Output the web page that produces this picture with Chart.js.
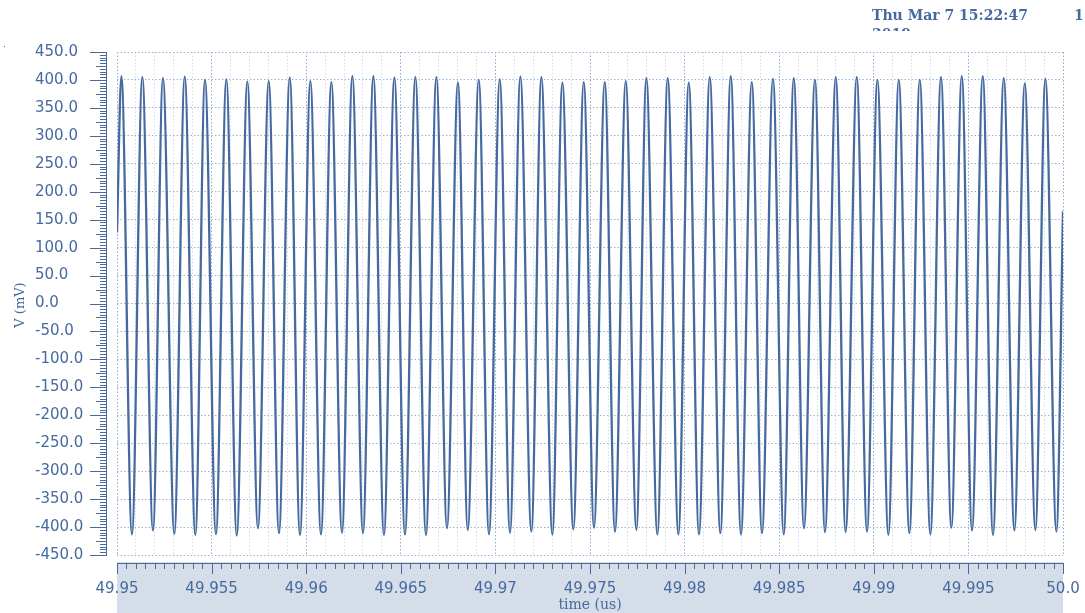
<!DOCTYPE html>
<html>
<head>
<meta charset="utf-8">
<script src="https://cdn.jsdelivr.net/npm/chart.js@4.4.1/dist/chart.umd.min.js"></script>
<style>
  html, body { margin: 0; padding: 0; background: #fff; }
</style>
</head>
<body>
<canvas id="chart" width="1085" height="613"></canvas>
<script>
const peakTimes = [
  49.95023, 49.95134, 49.95243, 49.95358, 49.95465, 49.95578, 49.95689, 49.95802, 49.95913, 49.96022, 49.96133, 49.96244, 49.96355, 49.96466, 49.96577, 49.96688,
  49.96802, 49.96912, 49.97023, 49.97132, 49.97243, 49.97354, 49.97467, 49.97578, 49.97689, 49.97798, 49.97911, 49.98022, 49.98133, 49.98244, 49.98355,
  49.98467, 49.98577, 49.98689, 49.98799, 49.98910, 49.99019, 49.99132, 49.99243, 49.99355, 49.99465, 49.99576, 49.99687, 49.99798, 49.99907
];
const peakValues = [
  407, 405, 403, 406, 400, 401, 397, 398, 404, 398, 396, 407, 407, 404, 405, 405,
  395, 400, 401, 406, 405, 395, 396, 396, 398, 403, 403, 395, 405, 407, 396,
  402, 403, 400, 405, 405, 400, 400, 400, 405, 407, 407, 403, 394, 402
];
const troughTimes = [
  49.95079, 49.95190, 49.95303, 49.95414, 49.95523, 49.95633, 49.95745, 49.95856, 49.95967, 49.96078, 49.96189, 49.96300, 49.96411, 49.96522, 49.96633,
  49.96744, 49.96854, 49.96966, 49.97077, 49.97190, 49.97301, 49.97412, 49.97521, 49.97632, 49.97745, 49.97856, 49.97967, 49.98076, 49.98189, 49.98298, 49.98409,
  49.98524, 49.98631, 49.98742, 49.98851, 49.98964, 49.99077, 49.99188, 49.99299, 49.99410, 49.99519, 49.99630, 49.99743, 49.99854, 49.99965
];
const troughValues = [
  -413, -406, -412, -414, -413, -415, -402, -411, -414, -413, -410, -411, -414, -413, -414,
  -402, -405, -413, -410, -408, -413, -404, -401, -408, -405, -413, -413, -413, -411, -413, -411,
  -413, -402, -409, -409, -408, -414, -411, -413, -401, -406, -414, -406, -405, -408
];
const edgeTimes = [49.95, 50.0];
const edgeValues = [127, 165];

const xTickValues = [49.95, 49.955, 49.96, 49.965, 49.97, 49.975, 49.98, 49.985, 49.99, 49.995, 50.0];
const xTickLabels = ['49.95', '49.955', '49.96', '49.965', '49.97', '49.975', '49.98', '49.985', '49.99', '49.995', '50.0'];
const yTicks = [-450, -400, -350, -300, -250, -200, -150, -100, -50, 0, 50, 100, 150, 200, 250, 300, 350, 400, 450];

const blue = '#466a9f';

// points du signal, tries par temps
const points = [];
edgeTimes.forEach((t, i) => points.push({ x: t, y: edgeValues[i] }));
peakTimes.forEach((t, i) => points.push({ x: t, y: peakValues[i] }));
troughTimes.forEach((t, i) => points.push({ x: t, y: troughValues[i] }));
points.sort((a, b) => a.x - b.x);

function labelFor(v) {
    const i = xTickValues.findIndex(t => Math.abs(t - v) < 1e-7);
    return i >= 0 ? xTickLabels[i] : '';
}

// regles des axes, bandeau et textes
const decor = {
    id: 'decor',
    beforeDraw(chart) {
        const ctx = chart.ctx;
        const a = chart.chartArea;
        ctx.save();
        ctx.fillStyle = '#fff';
        ctx.fillRect(0, 0, chart.width, chart.height);
        ctx.fillStyle = '#d5dde9';
        ctx.fillRect(a.left, 562, a.right - a.left, chart.height - 562);
        ctx.restore();
    },
    afterDraw(chart) {
        const ctx = chart.ctx;
        const a = chart.chartArea;
        const ys = chart.scales.y;
        const xs = chart.scales.x;
        ctx.save();
        ctx.strokeStyle = blue;
        ctx.lineWidth = 1;

        // regle verticale
        const rx = 106;
        ctx.beginPath();
        ctx.moveTo(rx + 0.5, a.top);
        ctx.lineTo(rx + 0.5, a.bottom);
        for (let i = 0; i <= 180; i++) {
            const v = -450 + i * 5;
            const y = Math.round(ys.getPixelForValue(v)) + 0.5;
            const len = i % 10 === 0 ? 16 : (i % 5 === 0 ? 10 : 6);
            ctx.moveTo(rx - len, y);
            ctx.lineTo(rx + 1, y);
        }
        ctx.stroke();

        // regle horizontale
        const ry = 563;
        ctx.beginPath();
        ctx.moveTo(a.left, ry + 0.5);
        ctx.lineTo(a.right, ry + 0.5);
        for (let i = 0; i <= 100; i++) {
            const x = Math.round(xs.getPixelForValue(49.95 + i * 0.0005)) + 0.5;
            const len = i % 10 === 0 ? 11 : 6;
            ctx.moveTo(x, ry);
            ctx.lineTo(x, ry + len);
        }
        ctx.stroke();

        // textes
        ctx.fillStyle = blue;
        ctx.font = 'bold 14px "DejaVu Serif"';
        ctx.textBaseline = 'alphabetic';
        ctx.textAlign = 'left';
        ctx.fillText('Thu Mar 7 15:22:47', 872, 20);
        ctx.fillText('1', 1074, 20);
        ctx.save();
        ctx.beginPath();
        ctx.rect(860, 0, 200, 31);
        ctx.clip();
        ctx.fillText('2019', 872, 39);
        ctx.restore();

        ctx.textAlign = 'center';
        ctx.textBaseline = 'middle';
        ctx.font = '14px "DejaVu Serif"';
        ctx.fillText('time (us)', (a.left + a.right) / 2, 605);
        ctx.font = '13px "DejaVu Serif"';
        ctx.save();
        ctx.translate(21, 305);
        ctx.rotate(-Math.PI / 2);
        ctx.fillText('V (mV)', 0, 0);
        ctx.restore();

        ctx.fillRect(4, 46, 1, 1);
        ctx.restore();
    }
};

new Chart(document.getElementById('chart'), {
    type: 'line',
    data: {
        datasets: [{
            data: points,
            borderColor: blue,
            borderWidth: 2.3,
            pointRadius: 0,
            cubicInterpolationMode: 'monotone',
            fill: false
        }]
    },
    options: {
        responsive: false,
        animation: false,
        devicePixelRatio: 1,
        layout: { padding: { top: 52, left: 35, right: 22, bottom: 0 } },
        plugins: {
            legend: { display: false },
            tooltip: { enabled: false }
        },
        scales: {
            x: {
                type: 'linear',
                min: 49.95,
                max: 50.0,
                afterBuildTicks: (s) => {
                    const t = [];
                    for (let i = 0; i <= 50; i++) t.push({ value: 49.95 + i * 0.001 });
                    s.ticks = t;
                },
                afterFit: (s) => {
                    s.height = 58;
                    s.paddingLeft = 0;
                    s.paddingRight = 0;
                },
                ticks: {
                    autoSkip: false,
                    maxRotation: 0,
                    padding: 25,
                    color: blue,
                    font: { family: '"DejaVu Sans"', size: 15 },
                    callback: (v) => labelFor(v)
                },
                grid: {
                    drawTicks: false,
                    lineWidth: 1,
                    color: (c) => labelFor(c.tick.value) ? '#8fa9d0' : '#d3ddec'
                },
                border: { display: false, dash: [1.5, 2] }
            },
            y: {
                type: 'linear',
                min: -450,
                max: 450,
                afterBuildTicks: (s) => { s.ticks = yTicks.map(v => ({ value: v })); },
                afterFit: (s) => { s.width = 82; },
                ticks: {
                    crossAlign: 'far',
                    color: blue,
                    font: { family: '"DejaVu Sans"', size: 15 },
                    callback: (v) => v.toFixed(1)
                },
                grid: {
                    drawTicks: false,
                    lineWidth: 1,
                    color: '#9cb3d6'
                },
                border: { display: false, dash: [1.5, 2] }
            }
        }
    },
    plugins: [decor]
});
</script>
</body>
</html>
